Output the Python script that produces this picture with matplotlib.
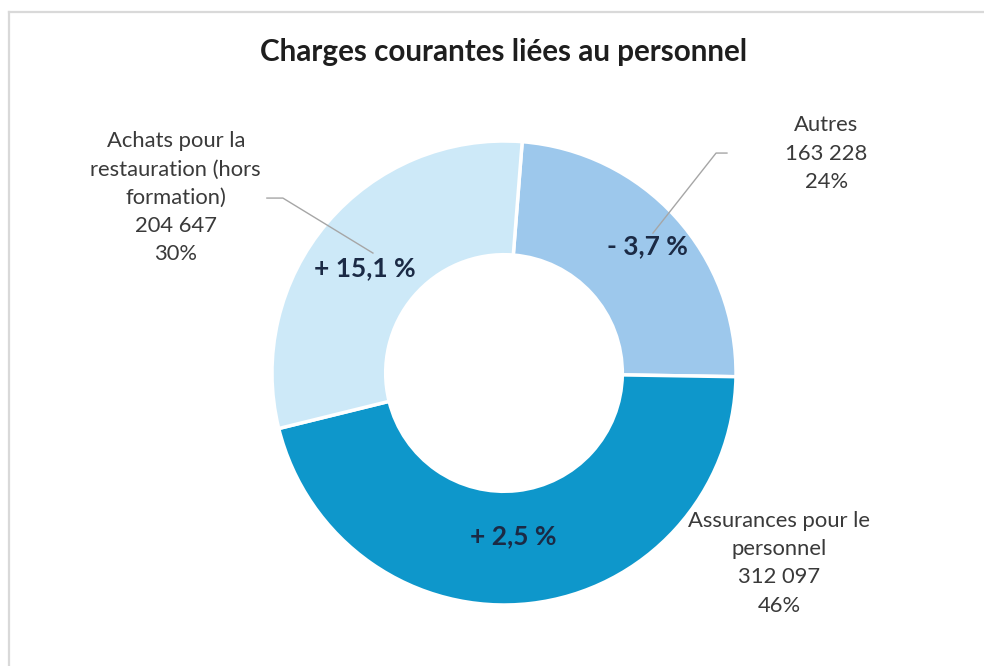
import matplotlib.pyplot as plt
from matplotlib.lines import Line2D

labels = ["Autres", "Assurances pour le\npersonnel", "Achats pour la\nrestauration (hors\nformation)"]
values = [163228, 312097, 204647]
evolutions = ["- 3,7 %", "+ 2,5 %", "+ 15,1 %"]
colors = ["#9DC8EC", "#0E97CB", "#CDE9F8"]

plt.rcParams['font.family'] = ['Lato', 'DejaVu Sans']

fig = plt.figure(figsize=(9.84, 6.66), dpi=100)
W, H = 984, 666

# frame lines (top and left only, as in the source)
fig.add_artist(Line2D([9 / W, 1], [1 - 12 / H, 1 - 12 / H], transform=fig.transFigure,
                      color="#D9D9D9", lw=1.6))
fig.add_artist(Line2D([9 / W, 9 / W], [0, 1 - 12 / H], transform=fig.transFigure,
                      color="#D9D9D9", lw=1.6))

fig.text(504 / W, 1 - 52 / H, "Charges courantes liées au personnel", ha="center", va="center",
         fontsize=21.3, fontweight="bold", color="#1E1E1E")

# pie axes: centre (504, 373) px, radius 232 px
ax = fig.add_axes([272 / W, 61 / H, 464 / W, 464 / H])
wedges, _ = ax.pie(values, colors=colors, startangle=85.5, counterclock=False, radius=1,
                   wedgeprops=dict(width=0.49, edgecolor="white", linewidth=2.5))
ax.set_xlim(-1, 1)
ax.set_ylim(-1, 1)
ax.set_aspect("equal")
ax.axis("off")

total = sum(values)


def fmt(v):
    return f"{v:,}".replace(",", " ")


# data labels outside (positions in axes data units)
out_pos = [(1.39, 0.945), (1.185, -0.82), (-1.415, 0.755)]
in_pos = [(0.62, 0.545), (0.04, -0.705), (-0.60, 0.45)]
for lab, v, ev, op, ip in zip(labels, values, evolutions, out_pos, in_pos):
    pct = round(100 * v / total)
    ax.text(op[0], op[1], f"{lab}\n{fmt(v)}\n{pct}%", ha="center", va="center",
            fontsize=15.8, color="#3A3A3A", linespacing=1.52, clip_on=False)
    ax.text(ip[0], ip[1], ev, ha="center", va="center", fontsize=19,
            fontweight="bold", color="#1B2A45")

# leader lines
ax.plot([0.961, 0.914, 0.642], [0.948, 0.948, 0.603], color="#A6A6A6", lw=1, clip_on=False)
ax.plot([-1.022, -0.953, -0.565], [0.754, 0.754, 0.517], color="#A6A6A6", lw=1, clip_on=False)

fig.savefig("out.png", dpi=100)
